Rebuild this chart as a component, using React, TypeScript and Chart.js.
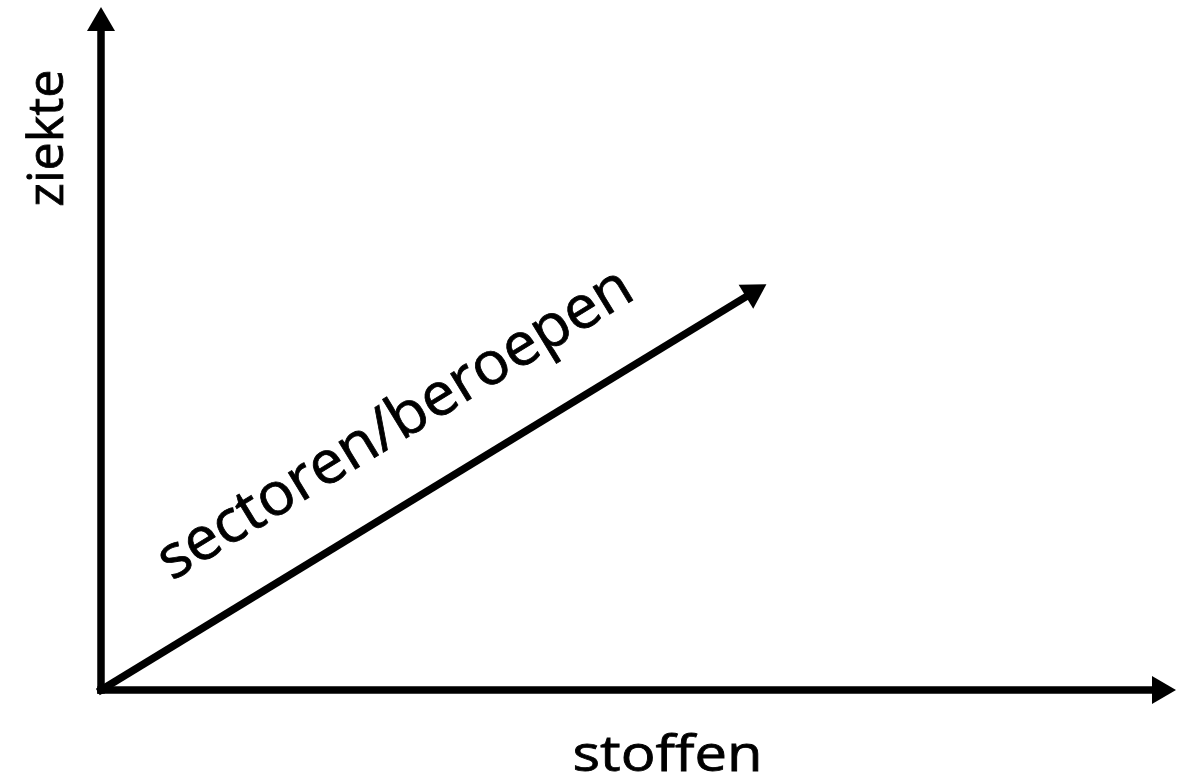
import React, { useEffect, useRef } from "react";
import { Chart, registerables } from "chart.js";

Chart.register(...registerables);

// Diagram data (data space: 0..10 on both axes)
const arrowNames = ["stoffen", "ziekte", "sectoren/beroepen"];
const arrowStartX = [0, 0, 0];
const arrowStartY = [0, 0, 0];
const arrowEndX = [10, 0, 6.19];
const arrowEndY = [0, 10, 5.94];
// where each label is anchored along its arrow (fraction of arrow length)
const labelAlong = [0.527, 0.808, 0.5];

const arrowPlugin = {
  id: "arrowPlugin",
  afterDatasetsDraw(chart: any) {
    const ctx: CanvasRenderingContext2D = chart.ctx;
    const headLen = 24;
    const headW = 28;
    const lineW = 7.5;
    const fontSizes = [50, 50, 60];
    const targetWidths = [190, 137, 545];
    chart.data.datasets.forEach((ds: any, i: number) => {
      const meta = chart.getDatasetMeta(i);
      const p0 = meta.data[0];
      const p1 = meta.data[1];
      const dx = p1.x - p0.x;
      const dy = p1.y - p0.y;
      const len = Math.hypot(dx, dy);
      const ux = dx / len;
      const uy = dy / len;
      const nx = uy;
      const ny = -ux;
      ctx.save();
      ctx.strokeStyle = "#000";
      ctx.fillStyle = "#000";
      ctx.lineWidth = lineW;
      ctx.lineCap = "square";
      ctx.beginPath();
      ctx.moveTo(p0.x, p0.y);
      ctx.lineTo(p1.x - ux * (headLen + 2), p1.y - uy * (headLen + 2));
      ctx.stroke();
      const bx = p1.x - ux * headLen;
      const by = p1.y - uy * headLen;
      ctx.beginPath();
      ctx.moveTo(p1.x, p1.y);
      ctx.lineTo(bx + nx * headW / 2, by + ny * headW / 2);
      ctx.lineTo(bx - nx * headW / 2, by - ny * headW / 2);
      ctx.closePath();
      ctx.fill();

      // label
      const f = labelAlong[i];
      const ax = p0.x + dx * f;
      const ay = p0.y + dy * f;
      ctx.font = `${fontSizes[i]}px "Open Sans", "Noto Sans", sans-serif`;
      ctx.textAlign = "center";
      ctx.textBaseline = "alphabetic";
      const w = ctx.measureText(ds.label).width;
      const sx = targetWidths[i] / w;
      if (i === 0) {
        ctx.translate(ax, ay + 81);
      } else if (i === 1) {
        ctx.translate(ax - 38, ay);
        ctx.rotate(-Math.PI / 2);
      } else {
        // offset perpendicular (up-left of the arrow)
        ctx.translate(ax + uy * 56, ay - ux * 56);
        ctx.rotate(Math.atan2(dy, dx));
      }
      ctx.scale(sx, 1);
      ctx.fillText(ds.label, 0, 0);
      ctx.lineWidth = 0.8;
      ctx.strokeText(ds.label, 0, 0);
      ctx.restore();
    });
  },
};

export default function App() {
  const ref = useRef<HTMLCanvasElement | null>(null);
  useEffect(() => {
    document.body.style.margin = "0";
    const canvas = ref.current;
    if (!canvas) return;
    const chart = new Chart(canvas, {
      type: "scatter",
      data: {
        datasets: arrowNames.map((name, i) => ({
          label: name,
          data: [
            { x: arrowStartX[i], y: arrowStartY[i] },
            { x: arrowEndX[i], y: arrowEndY[i] },
          ],
          showLine: false,
          pointRadius: 0,
          pointHoverRadius: 0,
          borderWidth: 0,
        })),
      },
      options: {
        animation: false,
        responsive: false,
        events: [],
        layout: { padding: { left: 101, right: 15, top: 7, bottom: 86 } },
        plugins: {
          legend: { display: false },
          tooltip: { enabled: false },
          title: { display: false },
        },
        scales: {
          x: { type: "linear", min: 0, max: 10, display: false },
          y: { type: "linear", min: 0, max: 10, display: false },
        },
      },
      plugins: [arrowPlugin],
    });
    return () => chart.destroy();
  }, []);
  return (
    <div style={{ position: "fixed", left: 0, top: 0, width: 1191, height: 776, background: "#fff" }}>
      <canvas ref={ref} width={1191} height={776} style={{ display: "block" }} />
    </div>
  );
}
